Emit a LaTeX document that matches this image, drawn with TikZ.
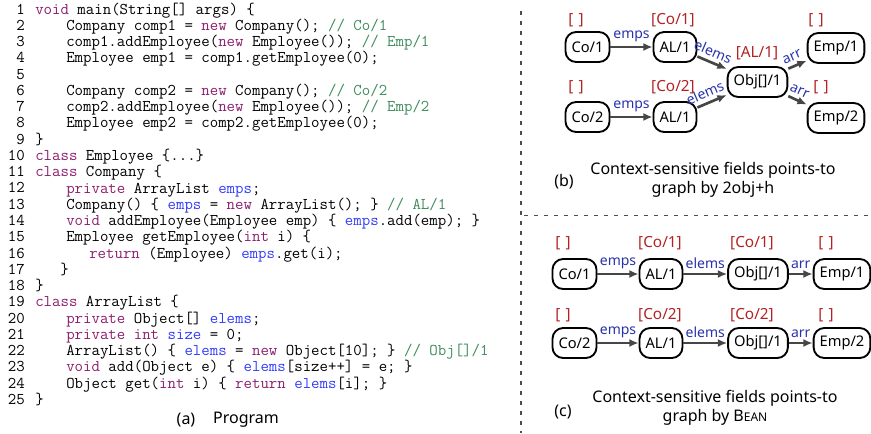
\documentclass[tikz,border=0pt]{standalone}
\usepackage{fontspec}
\setmainfont{Noto Sans}
\usetikzlibrary{arrows.meta}

\definecolor{kwpurple}{RGB}{140,30,110}
\definecolor{fldblue}{RGB}{50,60,250}
\definecolor{cmtgreen}{RGB}{60,140,90}
\definecolor{ctxred}{RGB}{178,34,34}
\definecolor{labblue}{RGB}{40,50,170}
\definecolor{ptrgray}{RGB}{70,70,70}

\newcommand{\kwd}[1]{\textcolor{kwpurple}{#1}}
\newcommand{\fldn}[1]{\textcolor{fldblue}{#1}}
\newcommand{\cmnt}[1]{\textcolor{cmtgreen}{#1}}
\newcommand{\noctx}{[\hspace{4pt}]}

\begin{document}
\begin{tikzpicture}[x=0.75pt,y=-0.75pt,
    code/.style={anchor=base west,inner sep=0pt,font=\ttfamily\fontsize{12.3}{12.3}\selectfont},
    lineno/.style={anchor=base east,inner sep=0pt,font=\ttfamily\fontsize{12.3}{12.3}\selectfont},
    obj/.style={draw,line width=1.4pt,rounded corners=8pt,minimum height=22.5pt,inner xsep=4.5pt,inner ysep=0pt,font=\fontsize{11}{12}\selectfont},
    ctx/.style={text=ctxred,inner sep=0pt,font=\fontsize{11.5}{12}\selectfont},
    flab/.style={text=labblue,inner sep=3pt,font=\fontsize{10.5}{12}\selectfont},
    ptr/.style={draw=ptrgray,line width=2pt,-{Latex[length=7pt,width=6pt]}},
    sep/.style={draw=black!70,line width=1.2pt,dash pattern=on 3pt off 4.5pt},
    capt/.style={inner sep=0pt,font=\fontsize{12}{14}\selectfont}]

    \useasboundingbox (0,0) rectangle (871,433);

    % (a) program
    \foreach \n in {1,...,25}
        \node[lineno] (num\n) at (25,{14+(\n-1)*16.27}) {\n};
    \node[code] (line1) at (35,14) {\kwd{void} main(String[] args) \{};
    \node[code] (line2) at (66,30.3) {Company comp1 = \kwd{new} Company(); \cmnt{// Co/1}};
    \node[code] (line3) at (66,46.5) {comp1.addEmployee(\kwd{new} Employee()); \cmnt{// Emp/1}};
    \node[code] (line4) at (66,62.8) {Employee emp1 = comp1.getEmployee(0);};
    \node[code] (line6) at (66,95.4) {Company comp2 = \kwd{new} Company(); \cmnt{// Co/2}};
    \node[code] (line7) at (66,111.6) {comp2.addEmployee(\kwd{new} Employee()); \cmnt{// Emp/2}};
    \node[code] (line8) at (66,127.9) {Employee emp2 = comp2.getEmployee(0);};
    \node[code] (line9) at (35,144.2) {\}};
    \node[code] (line10) at (35,160.4) {\kwd{class} Employee \{...\}};
    \node[code] (line11) at (35,176.7) {\kwd{class} Company \{};
    \node[code] (line12) at (66,193) {\kwd{private} ArrayList \fldn{emps};};
    \node[code] (line13) at (66,209.2) {Company() \{ \fldn{emps} = \kwd{new} ArrayList(); \} \cmnt{// AL/1}};
    \node[code] (line14) at (66,225.5) {\kwd{void} addEmployee(Employee emp) \{ \fldn{emps}.add(emp); \}};
    \node[code] (line15) at (66,241.8) {Employee getEmployee(\kwd{int} i) \{};
    \node[code] (line16) at (89,258.1) {\kwd{return} (Employee) \fldn{emps}.get(i);};
    \node[code] (line17) at (60,274.3) {\}};
    \node[code] (line18) at (35,290.6) {\}};
    \node[code] (line19) at (35,306.9) {\kwd{class} ArrayList \{};
    \node[code] (line20) at (66,323.1) {\kwd{private} Object[] \fldn{elems};};
    \node[code] (line21) at (66,339.4) {\kwd{private} \kwd{int} \fldn{size} = 0;};
    \node[code] (line22) at (66,355.7) {ArrayList() \{ \fldn{elems} = \kwd{new} Object[10]; \} \cmnt{// Obj[]/1}};
    \node[code] (line23) at (66,371.9) {\kwd{void} add(Object e) \{ \fldn{elems}[size++] = e; \}};
    \node[code] (line24) at (66,388.2) {Object get(\kwd{int} i) \{ \kwd{return} \fldn{elems}[i]; \}};
    \node[code] (line25) at (35,404.5) {\}};
    \node[capt] (capa) at (186,420) {(a)};
    \node[capt] (capprog) at (246,420) {Program};

    % separators
    \draw[sep] (521,11) -- (521,433);
    \draw[sep] (524,215.5) -- (871,215.5);

    % (b) 2obj+h
    \node[obj] (co1b) at (587.5,47) {Co/1};
    \node[obj] (al1b) at (675,47) {AL/1};
    \node[obj] (objb) at (757.5,82) {Obj[]/1};
    \node[obj] (emp1b) at (836,48) {Emp/1};
    \node[obj] (co2b) at (587.5,117) {Co/2};
    \node[obj] (al2b) at (675,117) {AL/1};
    \node[obj] (emp2b) at (836,118) {Emp/2};
    \node[ctx] (co1bctx) at (576,20) {\noctx};
    \node[ctx] (al1bctx) at (673,20) {[Co/1]};
    \node[ctx] (emp1bctx) at (816,20) {\noctx};
    \node[ctx] (co2bctx) at (576,87) {\noctx};
    \node[ctx] (al2bctx) at (673,87) {[Co/2]};
    \node[ctx] (objbctx) at (757,53) {[AL/1]};
    \node[ctx] (emp2bctx) at (821,87) {\noctx};
    \draw[ptr] (co1b) -- node[flab,above] (empsb1) {emps} (al1b);
    \draw[ptr] (co2b) -- node[flab,above] (empsb2) {emps} (al2b);
    \draw[ptr] (al1b) -- node[flab,above,sloped,pos=0.4] (elemsb1) {elems} (objb);
    \draw[ptr] (al2b) -- node[flab,above,sloped,pos=0.4] (elemsb2) {elems} (objb);
    \draw[ptr] (objb) -- node[flab,above,sloped,pos=0.4] (arrb1) {arr} (emp1b);
    \draw[ptr] (objb) -- node[flab,above,sloped,pos=0.4] (arrb2) {arr} (emp2b);
    \node[capt] (capb) at (564,182) {(b)};
    \node[capt,align=center] (capbtxt) at (713,180) {Context-sensitive fields points-to\\graph by 2obj+h};

    % (c) Bean
    \node[obj] (co1c) at (574.5,274) {Co/1};
    \node[obj] (al1c) at (661,274) {AL/1};
    \node[obj] (obj1c) at (758,274) {Obj[]/1};
    \node[obj] (emp1c) at (842,274) {Emp/1};
    \node[obj] (co2c) at (574.5,343) {Co/2};
    \node[obj] (al2c) at (661,343) {AL/1};
    \node[obj] (obj2c) at (758,343) {Obj[]/1};
    \node[obj] (emp2c) at (842,343) {Emp/2};
    \node[ctx] (co1cctx) at (563,243) {\noctx};
    \node[ctx] (al1cctx) at (660,243) {[Co/1]};
    \node[ctx] (obj1cctx) at (752,243) {[Co/1]};
    \node[ctx] (emp1cctx) at (826,243) {\noctx};
    \node[ctx] (co2cctx) at (563,315) {\noctx};
    \node[ctx] (al2cctx) at (660,315) {[Co/2]};
    \node[ctx] (obj2cctx) at (752,315) {[Co/2]};
    \node[ctx] (emp2cctx) at (826,315) {\noctx};
    \draw[ptr] (co1c) -- node[flab,above] (empsc1) {emps} (al1c);
    \draw[ptr] (al1c) -- node[flab,above] (elemsc1) {elems} (obj1c);
    \draw[ptr] (obj1c) -- node[flab,above] (arrc1) {arr} (emp1c);
    \draw[ptr] (co2c) -- node[flab,above] (empsc2) {emps} (al2c);
    \draw[ptr] (al2c) -- node[flab,above] (elemsc2) {elems} (obj2c);
    \draw[ptr] (obj2c) -- node[flab,above] (arrc2) {arr} (emp2c);
    \node[capt] (capc) at (563,412) {(c)};
    \node[capt,align=center] (capctxt) at (715,408) {Context-sensitive fields points-to\\graph by B{\fontsize{9}{14}\selectfont EAN}};
\end{tikzpicture}
\end{document}
